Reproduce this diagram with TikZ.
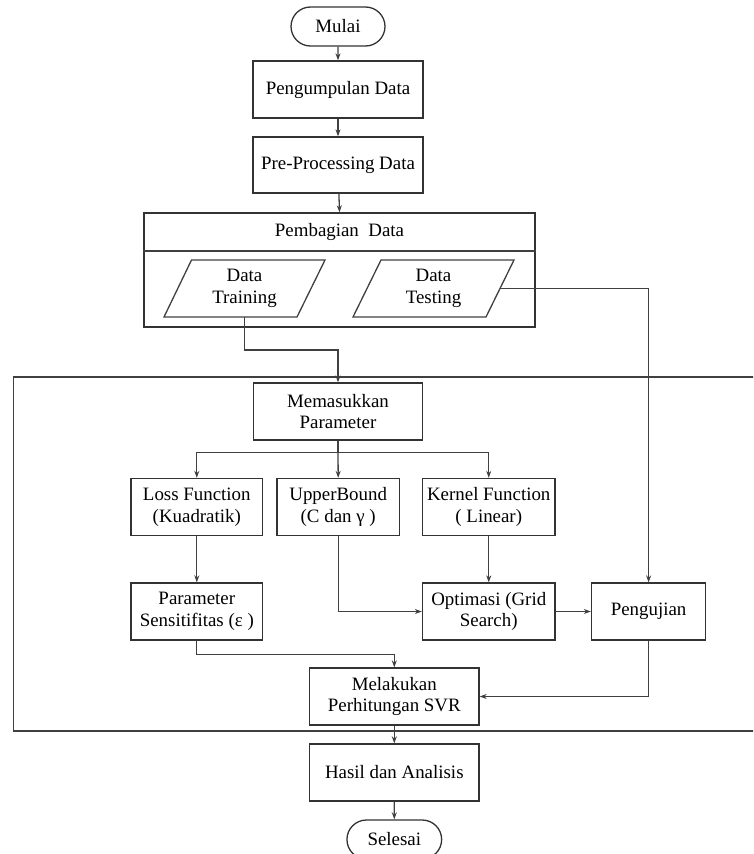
\documentclass[tikz,border=0pt]{standalone}
\usepackage{fontspec}
\setmainfont{Liberation Serif}
\usetikzlibrary{shapes.misc,arrows.meta}
\tikzset{
  lbl/.style={font=\fontsize{18.9}{21.8}\selectfont, align=center, inner sep=0pt},
  box/.style={lbl, draw=black!80, line width=1.3pt, rectangle},
  term/.style={lbl, draw=black!80, line width=1.3pt, rounded rectangle, minimum width=94pt, minimum height=39pt},
  ln/.style={draw=black!75, line width=1.3pt},
  arr/.style={ln, -{Stealth[length=7pt,width=5pt]}},
}
\begin{document}
\begin{tikzpicture}[x=1pt,y=-1pt]
\useasboundingbox (0,0) rectangle (753,854);
\clip (0,0) rectangle (753,854);
% outer frame
\draw[ln] (13.4,377) rectangle (770,731);
% top chain
\node[term] (mulai) at (338,26.5) {Mulai};
\node[box, minimum width=170pt, minimum height=57pt] (kumpul) at (338,89.5) {Pengumpulan Data};
\node[box, minimum width=170pt, minimum height=56pt] (pre) at (338,165) {Pre-Processing Data};
\node[box, minimum width=391pt, minimum height=114pt] (pemb) at (339.5,270) {};
\node[lbl] (pembt) at (339.5,232) {Pembagian\ \ Data};
\draw[ln] (pemb.west |- 0,251) -- (pemb.east |- 0,251);
% parallelograms
\draw[ln] (164,317) -- (191.5,260) -- (325,260) -- (297,317) -- cycle;
\node[lbl] (train) at (244.5,288.5) {Data\\Training};
\coordinate (trb) at (244.5,317);
\draw[ln] (353,317) -- (381,260) -- (514,260) -- (486,317) -- cycle;
\node[lbl] (test) at (433.5,288.5) {Data\\Testing};
\coordinate (tsr) at (500,288.7);
% inner nodes
\node[box, minimum width=169pt, minimum height=57pt] (mem) at (338,411.5) {Memasukkan\\Parameter};
\node[box, minimum width=131.6pt, minimum height=57pt] (loss) at (196.8,507) {Loss Function\\(Kuadratik)};
\node[box, minimum width=122.4pt, minimum height=57pt] (upper) at (338.2,507) {UpperBound\\(C dan γ )};
\node[box, minimum width=132.5pt, minimum height=57pt] (kern) at (488.75,507) {Kernel Function\\( Linear)};
\node[box, minimum width=131.6pt, minimum height=57pt] (sens) at (196.8,611.5) {Parameter\\Sensitifitas (ε )};
\node[box, minimum width=132.5pt, minimum height=57pt] (opt) at (488.75,611.5) {Optimasi (Grid\\Search)};
\node[box, minimum width=114.2pt, minimum height=57pt] (uji) at (648.6,611.5) {Pengujian};
\node[box, minimum width=169.4pt, minimum height=57pt] (svr) at (394.3,696.5) {Melakukan\\Perhitungan SVR};
\node[box, minimum width=169.4pt, minimum height=57pt] (hasil) at (394.3,772.5) {Hasil dan Analisis};
\node[term, minimum width=94.7pt] (selesai) at (394.3,839.5) {Selesai};
% connectors
\draw[arr] (mulai) -- (kumpul);
\draw[arr] (kumpul) -- (pre);
\draw[arr] (pre) -- (pemb.north);
\draw[arr] (trb) -- ++(0,33) -| (mem.north);
\draw[arr] (tsr) -| (uji.north);
\coordinate (br) at (338,452.3);
\draw[ln] (mem.south) -- (br);
\draw[arr] (br) -| (loss.north);
\draw[arr] (br) -| (kern.north);
\draw[arr] (br) -- (upper.north);
\draw[arr] (loss) -- (sens);
\draw[arr] (upper.south) |- (opt.west);
\draw[arr] (kern) -- (opt);
\draw[arr] (opt) -- (uji);
\draw[arr] (sens.south) -- ++(0,14) -| (svr.north);
\draw[arr] (uji.south) |- (svr.east);
\draw[arr] (svr) -- (hasil);
\draw[arr] (hasil) -- (selesai);
\end{tikzpicture}
\end{document}
